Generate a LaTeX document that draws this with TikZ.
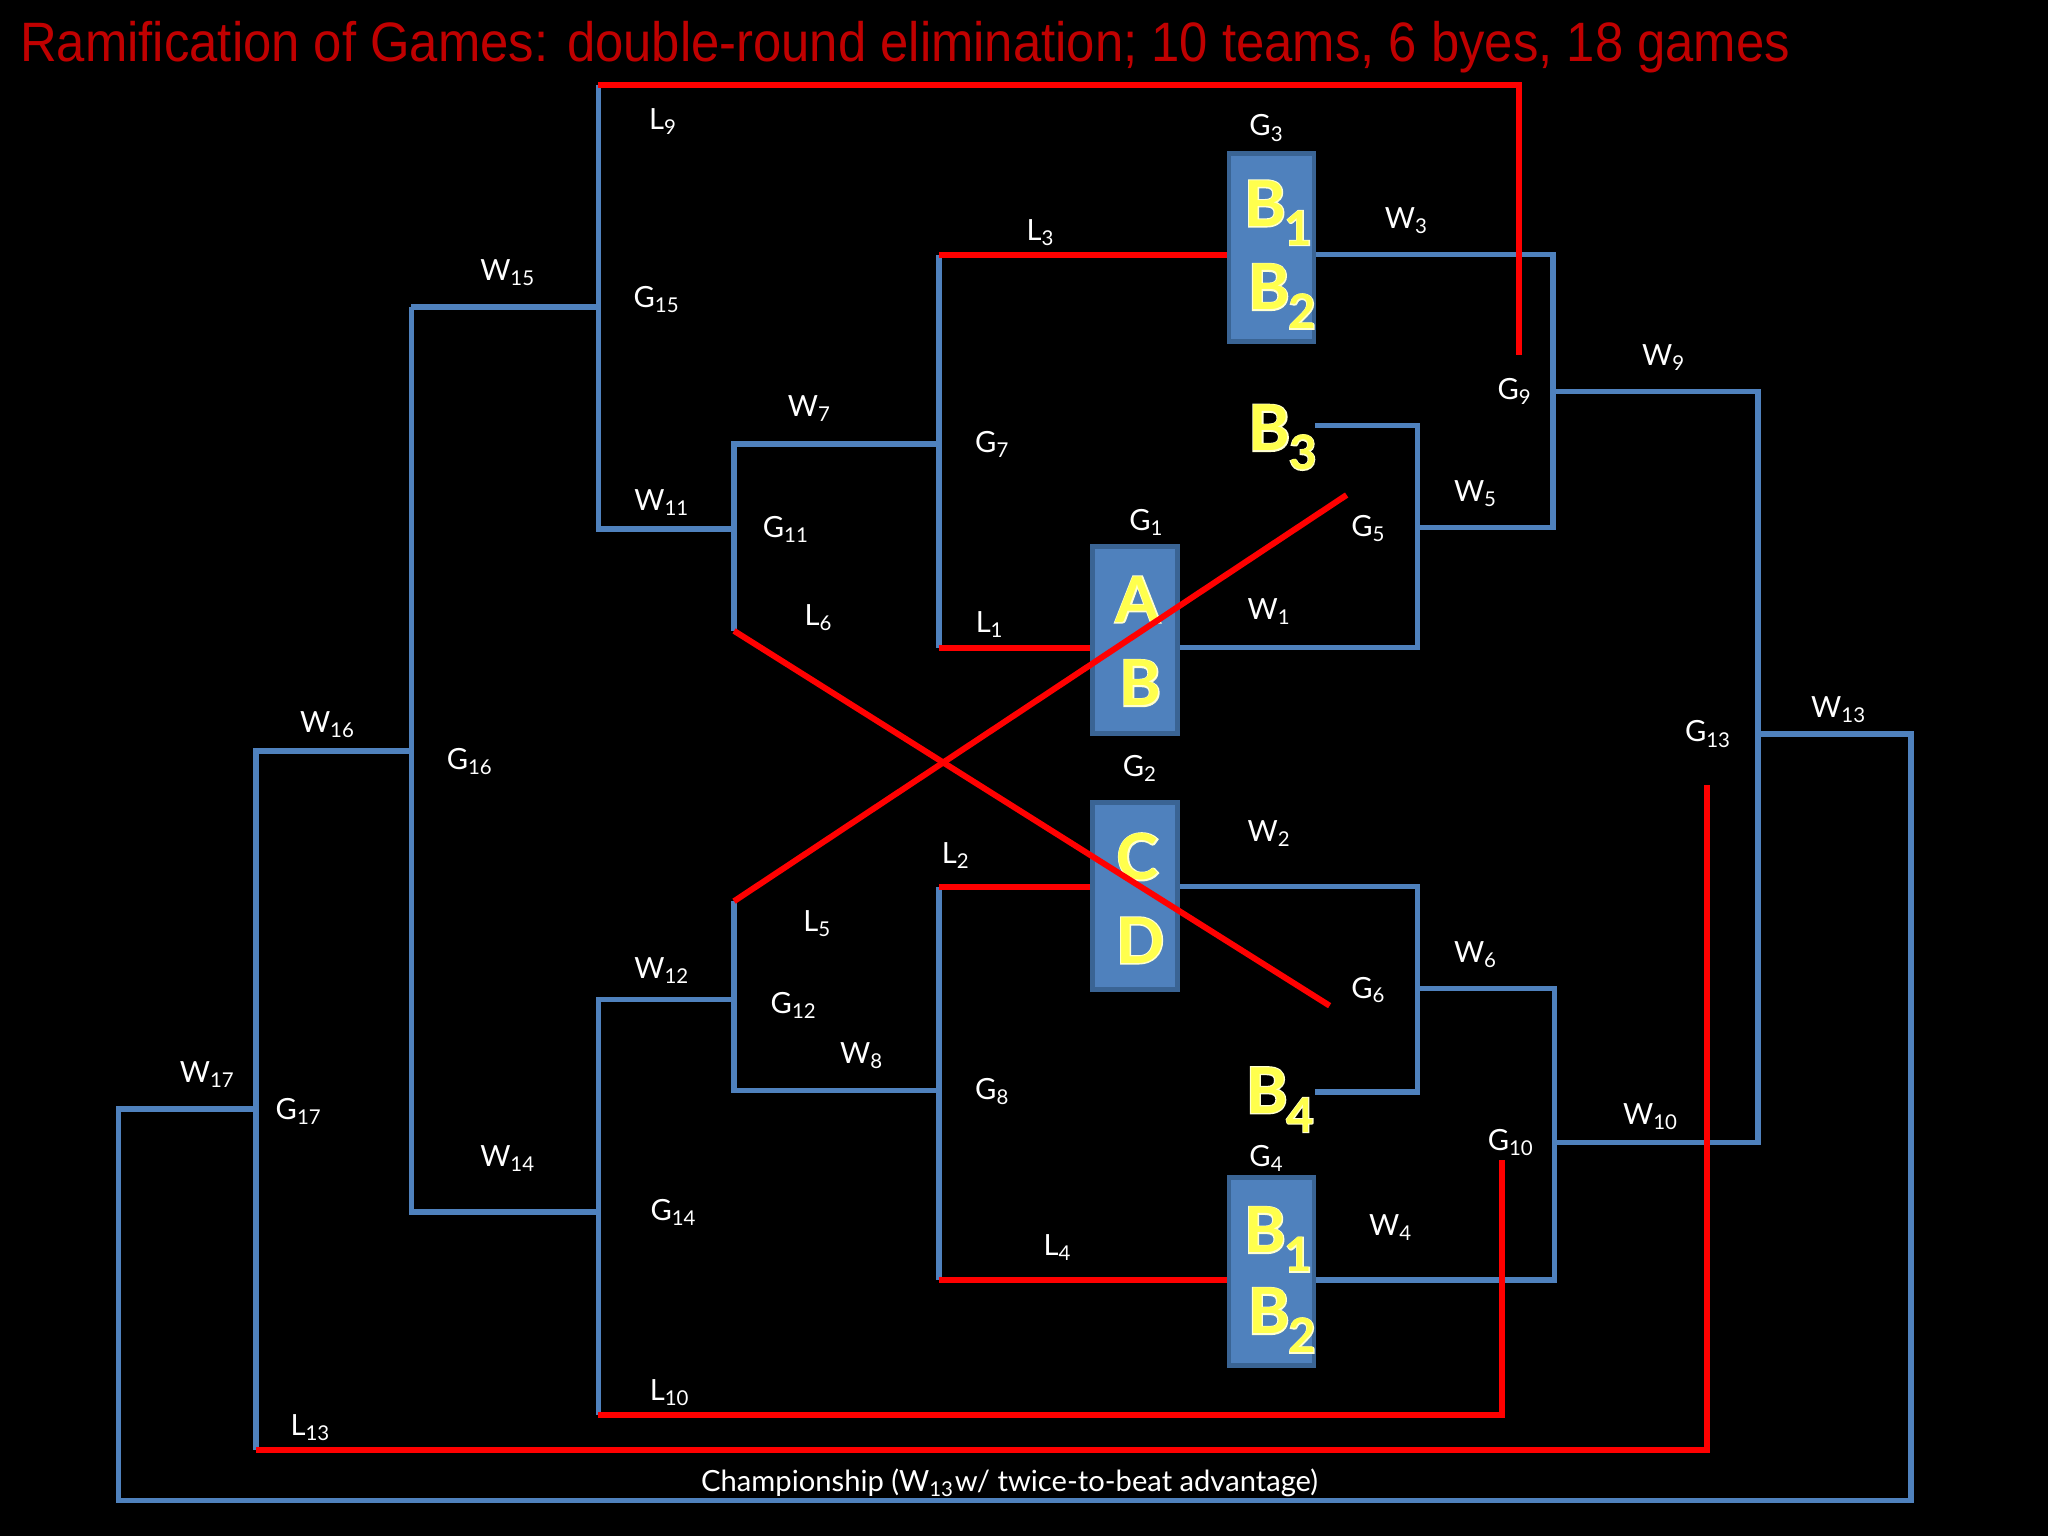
\documentclass[tikz,border=0pt]{standalone}
\usepackage{fontspec}
\setmainfont{Lato}
\newfontfamily\titlefont{Liberation Sans}
\newfontfamily\boxfont{Lato}
\newfontfamily\boxoutline[BoldFeatures={FakeBold=4}]{Lato}
\definecolor{lineblue}{HTML}{4F81BD}
\definecolor{boxblue}{HTML}{4F81BD}
\definecolor{boxedge}{HTML}{3A6494}
\definecolor{titlered}{HTML}{C00000}
\definecolor{letyellow}{HTML}{FFFF4D}
\definecolor{letglow}{HTML}{FFFFD0}
\newcommand\Bs[2]{#1\kern-0.02em\raisebox{-0.3em}{\fontsize{13.5}{14}\selectfont #2}}
\newcommand\yl[3]{\node[letout] (#2o) at #1 {#3};\node[letin] (#2) at #1 {#3};}
\tikzset{
  bl/.style={draw=lineblue, line width=1.5pt, line join=miter},
  rd/.style={draw=red, line width=1.7pt, line join=miter},
  lbl/.style={text=white, font=\fontsize{8.3}{10}\selectfont, inner sep=0pt},
  gbox/.style={draw=boxedge, fill=boxblue, line width=1.4pt, minimum width=0.85cm, minimum height=1.878cm, inner sep=0pt},
  letin/.style={text=letyellow, font=\boxfont\bfseries\fontsize{18}{18}\selectfont, inner sep=0pt},
  letout/.style={text=letglow, font=\boxoutline\bfseries\fontsize{18}{18}\selectfont, inner sep=0pt},
}
\begin{document}
\begin{tikzpicture}[x=0.013061cm, y=-0.013061cm]
\fill[black] (0,0) rectangle (1568,1176);
\useasboundingbox (0,0) rectangle (1568,1176);
% coordinates
\coordinate (p15t) at (458,65);
\coordinate (p9r) at (1163,65);
\coordinate (p9e) at (1163,272);
\coordinate (p15b) at (458,405);
\coordinate (w15l) at (315,235);
\coordinate (w15r) at (458,235);
\coordinate (g11t) at (562,340);
\coordinate (g11m) at (562,405);
\coordinate (g11b) at (562,483);
\coordinate (g7t) at (719,195);
\coordinate (g7m) at (719,340);
\coordinate (g7b) at (719,496);
\coordinate (g16b) at (315,928);
\coordinate (w14r) at (458,928);
\coordinate (w16l) at (196,575);
\coordinate (w16r) at (315,575);
\coordinate (g17b) at (196,1110);
\coordinate (l13r) at (1307,1110);
\coordinate (l13e) at (1307,601);
\coordinate (w17l) at (91,849);
\coordinate (w17r) at (196,849);
\coordinate (cbl) at (91,1149);
\coordinate (cbr) at (1463,1149);
\coordinate (w13r) at (1463,562);
\coordinate (w13l) at (1346,562);
\coordinate (g13t) at (1346,300);
\coordinate (g13b) at (1346,875);
\coordinate (g9t) at (1189,195);
\coordinate (g9m) at (1189,300);
\coordinate (g9b) at (1189,404);
\coordinate (g5t) at (1085,326);
\coordinate (g5m) at (1085,404);
\coordinate (g5b) at (1085,496);
\coordinate (g6t) at (1085,679);
\coordinate (g6m) at (1085,757);
\coordinate (g6b) at (1085,836);
\coordinate (g10t) at (1190,757);
\coordinate (g10m) at (1190,875);
\coordinate (g10b) at (1190,980);
\coordinate (g8t) at (719,679);
\coordinate (g8m) at (719,835);
\coordinate (g8b) at (719,980);
\coordinate (g12t) at (562,690);
\coordinate (g12m) at (562,765);
\coordinate (g12b) at (562,835);
\coordinate (g14t) at (458,765);
\coordinate (g14b) at (458,1083);
\coordinate (l10r) at (1150,1083);
\coordinate (l10e) at (1150,888);
\coordinate (l6e) at (1018,770);
\coordinate (l5e) at (1031,379);
\coordinate (b3e) at (1007,326);
\coordinate (b4e) at (1007,836);
% boxes
\node[gbox] (g3) at (973.5,189.3) {};
\node[gbox] (g1) at (869,490) {};
\node[gbox] (g2) at (869,686) {};
\node[gbox] (g4) at (973.5,973.5) {};
% blue lines
\draw[bl] (w15l) -- (w15r);
\draw[bl] (p15t) -- (p15b) -- (g11m);
\draw[bl] (g11b) -- (g11t) -- (g7m);
\draw[bl] (g7t) -- (g7b);
\draw[bl] (w16r) -- (w16l) -- (g17b);
\draw[bl] (w15l) -- (g16b) -- (w14r);
\draw[bl] (w17r) -- (w17l) -- (cbl) -- (cbr) -- (w13r) -- (w13l);
\draw[bl] (g9m) -- (g13t) -- (g13b) -- (g10m);
\draw[bl] (g3.east |- g9t) -- (g9t) -- (g9b) -- (g5m);
\draw[bl] (b3e) -- (g5t) -- (g5b) -- (g1.east |- g5b);
\draw[bl] (g2.east |- g6t) -- (g6t) -- (g6b) -- (b4e);
\draw[bl] (g6m) -- (g10t) -- (g10b) -- (g4.east |- g10b);
\draw[bl] (g8t) -- (g8b);
\draw[bl] (g12t) -- (g12b) -- (g8m);
\draw[bl] (g12m) -- (g14t) -- (g14b);
% box letters
\yl{(978.6,163)}{g3b1}{\Bs{B}{1}}
\yl{(981.5,227)}{g3b2}{\Bs{B}{2}}
\yl{(871,459)}{g1a}{A}
\yl{(873,523)}{g1b}{B}
\yl{(871,656)}{g2c}{C}
\yl{(873,720)}{g2d}{D}
\yl{(978.6,949)}{g4b1}{\Bs{B}{1}}
\yl{(981.5,1011)}{g4b2}{\Bs{B}{2}}
\yl{(982,335)}{b3}{\Bs{B}{3}}
\yl{(980,842)}{b4}{\Bs{B}{4}}
% red lines
\draw[rd] (p15t) -- (p9r) -- (p9e);
\draw[rd] (g7t) -- (g3.west |- g7t);
\draw[rd] (g7b) -- (g1.west |- g7b);
\draw[rd] (g8t) -- (g2.west |- g8t);
\draw[rd] (g8b) -- (g4.west |- g8b);
\draw[rd] (g14b) -- (l10r) -- (l10e);
\draw[rd] (g17b) -- (l13r) -- (l13e);
\draw[rd] (g11b) -- (l6e);
\draw[rd] (g12t) -- (l5e);
% labels
\node[lbl] (tL9) at (508,93) {L\textsubscript{9}};
\node[lbl] (tG15) at (503,229) {G\textsubscript{15}};
\node[lbl] (tW15) at (389,209) {W\textsubscript{15}};
\node[lbl] (tW11) at (507,385) {W\textsubscript{11}};
\node[lbl] (tG11) at (602,405) {G\textsubscript{11}};
\node[lbl] (tL6) at (627,473) {L\textsubscript{6}};
\node[lbl] (tW7) at (620,313) {W\textsubscript{7}};
\node[lbl] (tG7) at (760,340) {G\textsubscript{7}};
\node[lbl] (tL3) at (797,178) {L\textsubscript{3}};
\node[lbl] (tL1) at (758,478) {L\textsubscript{1}};
\node[lbl] (tG3) at (970,98) {G\textsubscript{3}};
\node[lbl] (tW3) at (1077,169) {W\textsubscript{3}};
\node[lbl] (tG9) at (1160,300) {G\textsubscript{9}};
\node[lbl] (tW9) at (1274,274) {W\textsubscript{9}};
\node[lbl] (tG1) at (878,400) {G\textsubscript{1}};
\node[lbl] (tW1) at (972,468) {W\textsubscript{1}};
\node[lbl] (tG5) at (1048,405) {G\textsubscript{5}};
\node[lbl] (tW5) at (1130,378) {W\textsubscript{5}};
\node[lbl] (tW16) at (251,555) {W\textsubscript{16}};
\node[lbl] (tG16) at (360,583) {G\textsubscript{16}};
\node[lbl] (tG2) at (873,588) {G\textsubscript{2}};
\node[lbl] (tW2) at (972,638) {W\textsubscript{2}};
\node[lbl] (tL2) at (732,655) {L\textsubscript{2}};
\node[lbl] (tL5) at (626,707) {L\textsubscript{5}};
\node[lbl] (tW12) at (507,743) {W\textsubscript{12}};
\node[lbl] (tG12) at (608,770) {G\textsubscript{12}};
\node[lbl] (tW6) at (1130,731) {W\textsubscript{6}};
\node[lbl] (tG6) at (1048,758) {G\textsubscript{6}};
\node[lbl] (tW8) at (660,808) {W\textsubscript{8}};
\node[lbl] (tG8) at (760,836) {G\textsubscript{8}};
\node[lbl] (tG13) at (1308,562) {G\textsubscript{13}};
\node[lbl] (tW13) at (1408,543) {W\textsubscript{13}};
\node[lbl] (tW17) at (159,823) {W\textsubscript{17}};
\node[lbl] (tG17) at (229,851) {G\textsubscript{17}};
\node[lbl] (tW14) at (389,887) {W\textsubscript{14}};
\node[lbl] (tG14) at (516,928) {G\textsubscript{14}};
\node[lbl] (tG4) at (970,887) {G\textsubscript{4}};
\node[lbl] (tG10) at (1157,875) {G\textsubscript{10}};
\node[lbl] (tW10) at (1264,855) {W\textsubscript{10}};
\node[lbl] (tW4) at (1065,940) {W\textsubscript{4}};
\node[lbl] (tL4) at (810,955) {L\textsubscript{4}};
\node[lbl] (tL10) at (513,1066) {L\textsubscript{10}};
\node[lbl] (tL13) at (238,1093) {L\textsubscript{13}};
\node[lbl] (champ) at (773,1135) {Championship (W\textsubscript{13}w/ twice-to-beat advantage)};
\node[anchor=west, inner sep=0pt, text=titlered, font=\titlefont\fontsize{15.8}{18}\selectfont] (title) at (15,36) {\scalebox{0.915}[1]{Ramification of Games: double-round elimination; 10 teams, 6 byes, 18 games}};
\end{tikzpicture}
\end{document}
